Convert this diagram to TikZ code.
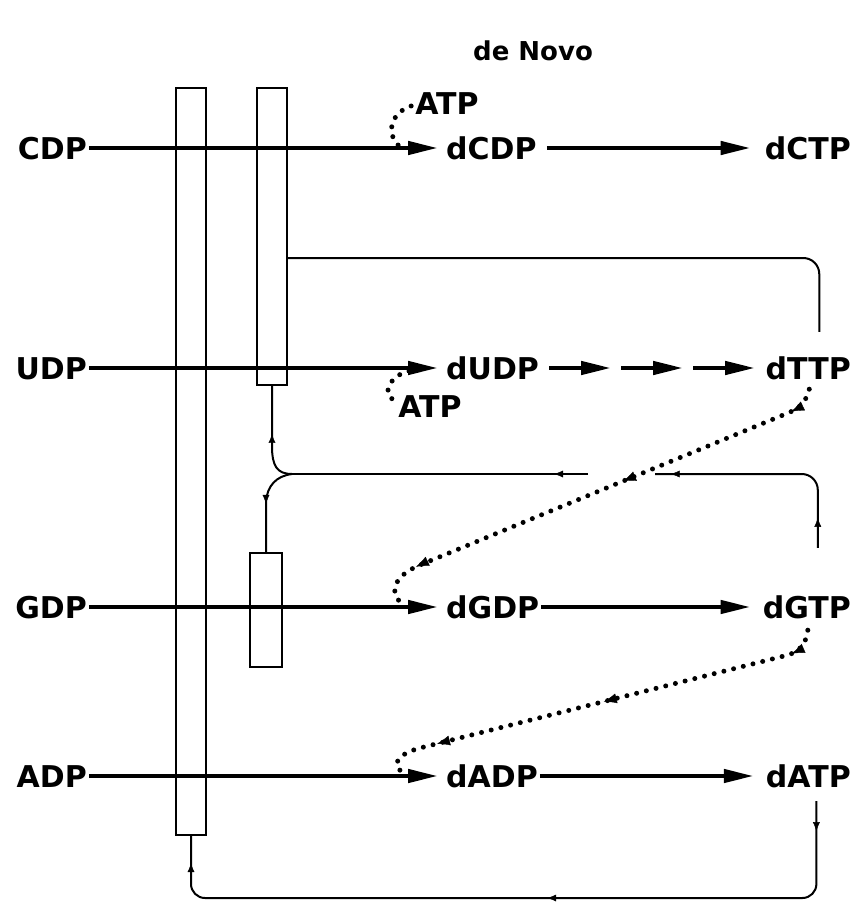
\documentclass[tikz,border=0pt]{standalone}
\usepackage{fontspec}
\setmainfont{DejaVu Sans}
\usetikzlibrary{arrows.meta,decorations.markings}

\tikzset{
  mol/.style={inner sep=0pt, font=\fontsize{30}{30}\selectfont\bfseries, text height=22pt, text depth=0pt},
  bar/.style={draw, rectangle, line width=2pt, inner sep=0pt},
  react/.style={line width=4.5pt, -{Triangle[length=30pt,width=13pt]}},
  fb/.style={line width=2pt},
  dotline/.style={line width=5pt, line cap=round, dash pattern=on 0pt off 10pt},
  flowmark/.style={postaction={decorate, decoration={markings, mark=at position #1 with {\arrow{Latex[length=9pt,width=7pt,line width=0.4pt]}}}}},
  dotmark/.style={postaction={decorate, decoration={markings, mark=at position #1 with {\arrow{Latex[length=13pt,width=10pt,line width=0.4pt]}}}}}
}

\begin{document}
\begin{tikzpicture}[x=1pt, y=-1pt]
\useasboundingbox (0,0) rectangle (854,915);

%Title
\node[mol, font=\fontsize{26}{26}\selectfont\bfseries] (title) at (533,50) {de Novo};

%Enzyme bars
\node (longbar) at (191,461.5) [bar, minimum width=30pt, minimum height=747pt]{};
\node (shortbar) at (272,236.5) [bar, minimum width=30pt, minimum height=297pt]{};
\node (smallbar) at (266,610) [bar, minimum width=32pt, minimum height=114pt]{};

%Diphosphates
\node (cdp) at (87,148) [mol, anchor=east]{CDP};
\node (udp) at (87,368) [mol, anchor=east]{UDP};
\node (gdp) at (87,607) [mol, anchor=east]{GDP};
\node (adp) at (87,776) [mol, anchor=east]{ADP};

%Deoxy diphosphates
\node (dcdp) at (446,148) [mol, anchor=west]{dCDP};
\node (dudp) at (446,368) [mol, anchor=west]{dUDP};
\node (dgdp) at (446,607) [mol, anchor=west]{dGDP};
\node (dadp) at (446,776) [mol, anchor=west]{dADP};

%Deoxy triphosphates
\node (dctp) at (851,148) [mol, anchor=east]{dCTP};
\node (dttp) at (851,368) [mol, anchor=east]{dTTP};
\node (dgtp) at (851,607) [mol, anchor=east]{dGTP};
\node (datp) at (851,776) [mol, anchor=east]{dATP};

%ATP
\node (atpa) at (447,103) [mol]{ATP};
\node (atpb) at (430,406) [mol]{ATP};

%Reductions
\draw[react] ([xshift=2pt]cdp.east) -- ([xshift=-8pt]dcdp.west);
\draw[react] ([xshift=2pt]udp.east) -- ([xshift=-8pt]dudp.west);
\draw[react] ([xshift=2pt]gdp.east) -- ([xshift=-8pt]dgdp.west);
\draw[react] ([xshift=2pt]adp.east) -- ([xshift=-8pt]dadp.west);

%Phosphorylations
\draw[react] ([xshift=10pt]dcdp.east) -- ([xshift=-14pt]dctp.west);
\draw[react] ([xshift=2pt]dgdp.east) -- ([xshift=-12pt]dgtp.west);
\draw[react] ([xshift=2pt]dadp.east) -- ([xshift=-12pt]datp.west);
\foreach \a in {10,82,154}
  \draw[react] ([xshift=\a pt]dudp.east) -- ([xshift=\a pt+62pt]dudp.east);

%ATP effectors
\draw[dotline] ([xshift=-4pt,yshift=-3pt]atpa.west) .. controls (390,113) and (386,134) .. (399,146);
\draw[dotline] (409,371) .. controls (388,376) and (382,396) .. ([xshift=-4pt,yshift=6pt]atpb.west);

%dTTP and dGTP effectors
\draw[dotline, dotmark=30pt, dotmark=212pt, dotmark=436pt] ([xshift=1pt,yshift=-10pt]dttp.south)
  .. controls (806,402) and (800,408) .. (788,413) -- (420,565)
  .. controls (393,576) and (388,594) .. (403,604);
\draw[dotline, dotmark=30pt, dotmark=224pt, dotmark=396pt] ([xshift=1pt,yshift=-12pt]dgtp.south)
  .. controls (806,644) and (800,651) .. (788,655) -- (420,748)
  .. controls (394,755) and (392,767) .. (404,773);

%Feedback from dTTP
\draw[fb, rounded corners=16pt] ([xshift=11pt,yshift=25pt]dttp.north) |- (shortbar.east |- 0,258);

%Feedback from dGTP
\coordinate (jn) at (292,474);
\draw[fb, rounded corners=16pt, flowmark=30pt, flowmark=214pt] ([xshift=11pt,yshift=48pt]dgtp.north) |- (655,474);
\draw[fb, flowmark=34pt] (588,474) -- (jn);
\draw[fb, flowmark=52pt] (jn) .. controls (277,474) and (272,466) .. (272,446) -- (shortbar.south);
\draw[fb, flowmark=44pt] (jn) .. controls (276,476) and (267,486) .. (266,502) -- (smallbar.north);

%Feedback from dATP
\draw[fb, rounded corners=14pt, flowmark=30pt, flowmark=360pt, flowmark=745pt]
  ([xshift=8pt,yshift=-14pt]datp.south) |- (191,898) -- (longbar.south);

\end{tikzpicture}
\end{document}
